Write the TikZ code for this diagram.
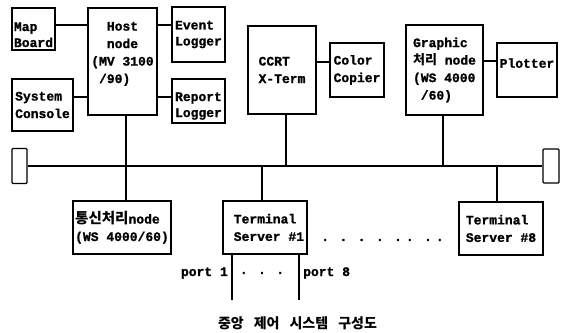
\documentclass[tikz,border=0pt]{standalone}
\usepackage{fontspec}
\newfontfamily\mono{Liberation Mono}[BoldFeatures={FakeBold=1.2}]
\newfontfamily\kr{Noto Sans CJK KR}
\begin{document}
\begin{tikzpicture}[x=1pt,y=-1pt,
  box/.style={draw, line width=1.4pt, rectangle, align=left, inner sep=0pt,
    font=\mono\bfseries\fontsize{13}{17.5}\selectfont},
  term/.style={draw, line width=1.2pt, rectangle, rounded corners=1pt, inner sep=0pt},
  link/.style={line width=1.2pt},
  bus/.style={line width=2.8pt},
  lbl/.style={inner sep=0pt, font=\mono\bfseries\fontsize{13}{15}\selectfont}]
\useasboundingbox (0,0) rectangle (564,332);
% top row
\node[box, minimum width=43, minimum height=42, text height=36pt, text depth=0pt,
  font=\mono\bfseries\fontsize{13}{16}\selectfont] (map) at (33.5,29) {Map\\Board};
\node[box, minimum width=61, minimum height=52] (console) at (42.5,105) {System\\Console};
\node[box, minimum width=69, minimum height=107, text depth=18pt] (host) at (122.5,61.5)
  {\phantom{xx}Host\\\phantom{xx}node\\(MV 3100\\\phantom{x}/90)};
\node[box, minimum width=53, minimum height=55,
  font=\mono\bfseries\fontsize{13}{16}\selectfont] (event) at (198.5,34.5) {Event\\Logger};
\node[box, minimum width=53, minimum height=44, text height=32pt, text depth=0pt,
  font=\mono\bfseries\fontsize{13}{16}\selectfont] (report) at (198.5,101) {Report\\Logger};
\node[box, minimum width=68, minimum height=88] (ccrt) at (282,70) {CCRT\\X-Term};
\node[box, minimum width=54, minimum height=54] (copier) at (357,70) {Color\\Copier};
\node[box, minimum width=77, minimum height=90] (graphic) at (444.5,70)
  {Graphic\\{\kr\bfseries\fontsize{13}{17.5}\selectfont 처리} node\\(WS 4000\\\phantom{x}/60)};
\node[box, minimum width=60, minimum height=54, text depth=14pt] (plotter) at (527,70) {Plotter};
% bus terminators
\node[term, minimum width=15, minimum height=35] (tl) at (19.5,166) {};
\node[term, minimum width=16, minimum height=34] (tr) at (551,166) {};
% bottom row
\node[box, minimum width=98, minimum height=53] (comm) at (122,227.5)
  {{\kr\bfseries\fontsize{14.5}{17.5}\selectfont 통신처리}node\\(WS 4000/60)};
\node[box, minimum width=84, minimum height=53] (ts1) at (265,227.5) {\phantom{x}Terminal\\\phantom{x}Server \#1};
\node[box, minimum width=84, minimum height=53] (ts8) at (501,228.5) {Terminal\\Server \#8};
% bus
\draw[bus] (tl.east) -- (tr.west);
% side links
\draw[link] ([yshift=4pt]map.east) -- ([yshift=4pt]map.east -| host.west);
\draw[link] ([yshift=8pt]console.east) -- ([yshift=8pt]console.east -| host.west);
\draw[link] ([yshift=9.5pt]event.west -| host.east) -- ([yshift=9.5pt]event.west);
\draw[link] ([yshift=4pt]report.west -| host.east) -- ([yshift=4pt]report.west);
\draw[link] ([yshift=8pt]copier.west -| ccrt.east) -- ([yshift=8pt]copier.west);
\draw[link] ([yshift=9pt]plotter.west -| graphic.east) -- ([yshift=9pt]plotter.west);
% drops to bus
\draw[link] ([xshift=3.5pt]host.south) -- ([xshift=3.5pt]host.south |- comm.north);
\draw[link] ([xshift=4pt]ccrt.south) -- ([xshift=4pt]ccrt.south |- tl.east);
\draw[link] ([xshift=-1.5pt]graphic.south) -- ([xshift=-1.5pt]graphic.south |- tl.east);
\draw[link] ([xshift=-3pt]ts1.north |- tl.east) -- ([xshift=-3pt]ts1.north);
\draw[link] ([xshift=-4pt]ts8.north |- tl.east) -- ([xshift=-4pt]ts8.north);
% ports
\coordinate (p1) at (232,300);
\coordinate (p8) at (299,300);
\draw[link] (ts1.south -| p1) -- (p1);
\draw[link] (ts1.south -| p8) -- (p8);
\node[lbl, anchor=east] (port1) at (228,273) {port 1};
\node[lbl, anchor=west] (port8) at (303,273) {port 8};
\node[lbl] (pdots) at (262,273) {. . .};
\node[lbl] (tsdots) at (382.5,240) {. . . . .\hspace{4pt}. .\hspace{4pt}.};
% caption
\node[inner sep=0pt, font=\kr\bfseries\fontsize{14}{16}\selectfont] (caption) at (297.5,323)
  {중앙\hspace{10pt}제어\hspace{10pt}시스템\hspace{10pt}구성도};
\end{tikzpicture}
\end{document}
